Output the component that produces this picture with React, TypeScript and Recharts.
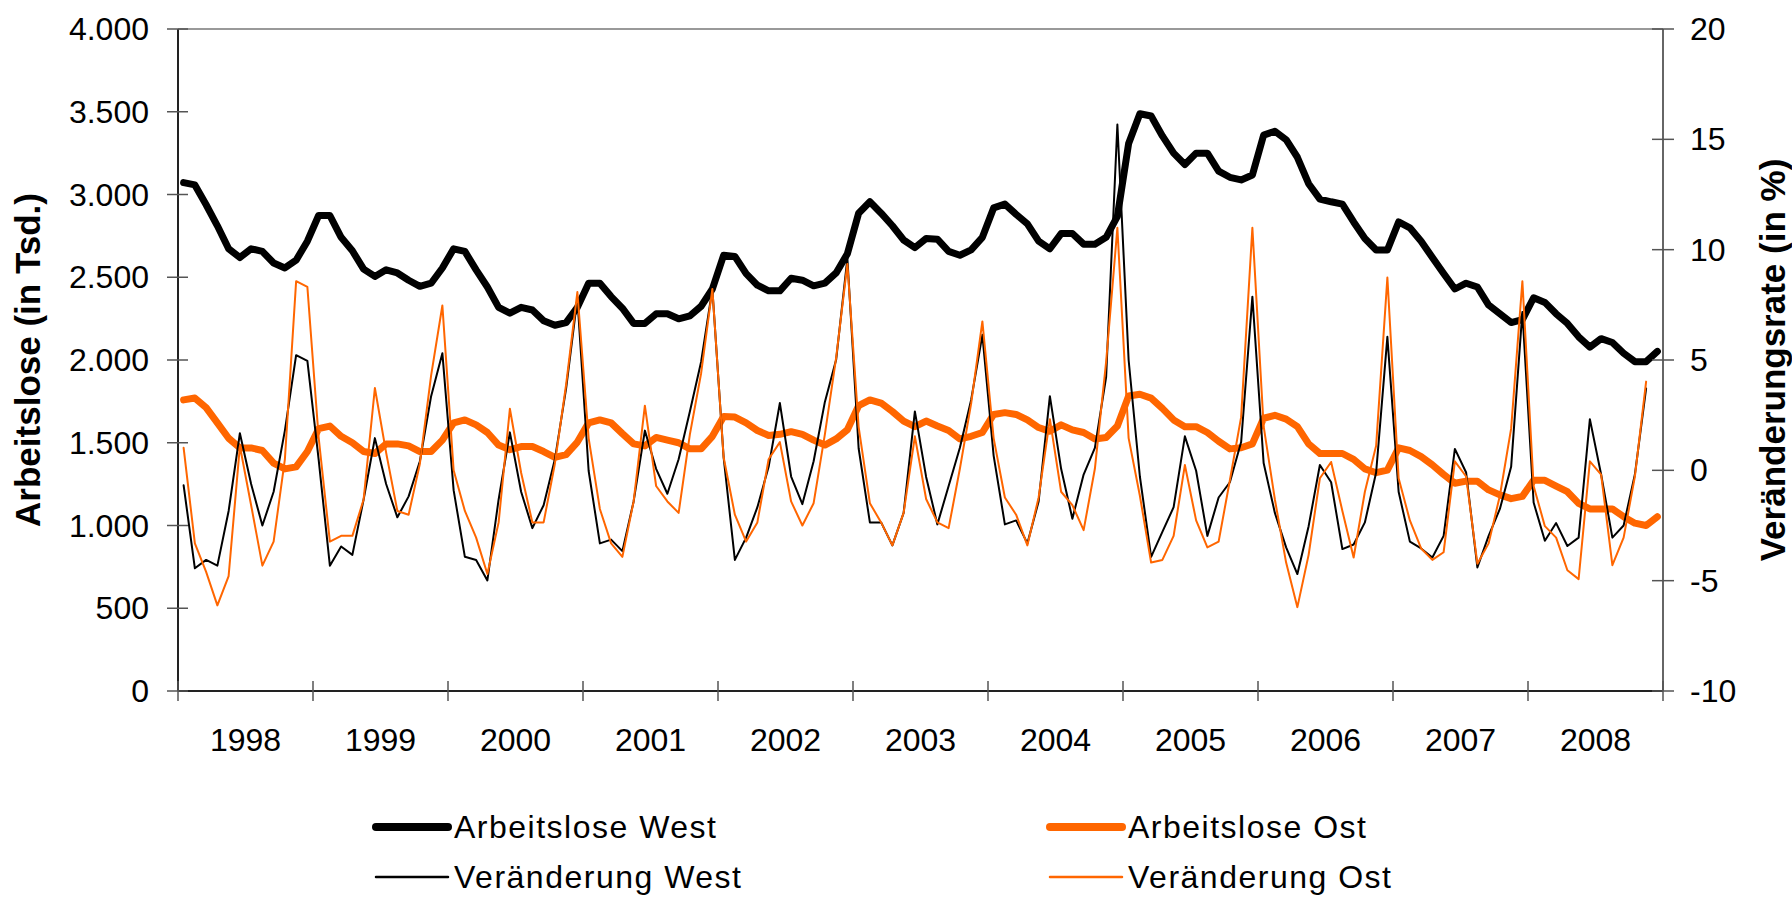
import React from 'react';
import { LineChart, Line, XAxis, YAxis, ReferenceLine } from 'recharts';

// Years (x-axis category labels), 12 monthly points per year: Jan 1998 - Dec 2008
const years = [1998, 1999, 2000, 2001, 2002, 2003, 2004, 2005, 2006, 2007, 2008];

// Arbeitslose West (in Tsd.)
const westLevel = [
  3072, 3058, 2938, 2811, 2672, 2619, 2672, 2656, 2586, 2556, 2603, 2718,
  2873, 2873, 2741, 2660, 2549, 2505, 2545, 2526, 2482, 2445, 2464, 2556,
  2672, 2656, 2545, 2441, 2318, 2283, 2318, 2302, 2237, 2210, 2226, 2318,
  2464, 2464, 2383, 2313, 2221, 2221, 2279, 2279, 2249, 2267, 2325, 2429,
  2633, 2626, 2522, 2452, 2418, 2418, 2494, 2482, 2448, 2464, 2526, 2642,
  2887, 2956, 2887, 2811, 2725, 2679, 2734, 2730, 2656, 2633, 2665, 2741,
  2919, 2942, 2880, 2822, 2718, 2672, 2764, 2764, 2700, 2700, 2741, 2868,
  3308, 3488, 3474, 3354, 3250, 3181, 3250, 3250, 3141, 3104, 3088, 3118,
  3359, 3382, 3331, 3225, 3065, 2972, 2956, 2942, 2834, 2734, 2665, 2665,
  2834, 2799, 2718, 2619, 2522, 2429, 2464, 2441, 2332, 2279, 2226, 2244,
  2376, 2348, 2279, 2221, 2140, 2078, 2129, 2106, 2041, 1990, 1990, 2052,
];

// Arbeitslose Ost (in Tsd.)
const ostLevel = [
  1759, 1770, 1712, 1620, 1527, 1469, 1469, 1453, 1377, 1342, 1354, 1447,
  1585, 1601, 1539, 1500, 1447, 1435, 1493, 1493, 1481, 1447, 1447, 1516,
  1620, 1638, 1608, 1562, 1486, 1458, 1477, 1477, 1447, 1412, 1428, 1504,
  1620, 1638, 1620, 1555, 1493, 1481, 1532, 1516, 1500, 1463, 1463, 1539,
  1659, 1655, 1620, 1574, 1544, 1551, 1567, 1551, 1516, 1486, 1523, 1578,
  1724, 1759, 1740, 1689, 1631, 1597, 1631, 1601, 1574, 1523, 1539, 1562,
  1671, 1682, 1671, 1638, 1592, 1569, 1608, 1578, 1562, 1523, 1532, 1601,
  1782, 1793, 1770, 1708, 1638, 1597, 1597, 1562, 1509, 1463, 1470, 1493,
  1648, 1666, 1643, 1597, 1493, 1435, 1435, 1435, 1400, 1342, 1319, 1335,
  1469, 1453, 1416, 1366, 1308, 1255, 1268, 1268, 1215, 1185, 1162, 1176,
  1273, 1273, 1238, 1204, 1134, 1100, 1100, 1100, 1053, 1014, 1000, 1053,
];

// Veränderung West (in %)
const westChange = [
  -0.68, -4.44, -4.06, -4.32, -1.84, 1.68, -0.62, -2.5, -0.97, 1.8, 5.22, 4.96,
  0.5, -4.32, -3.45, -3.83, -1.32, 1.46, -0.62, -2.13, -1.18, 0.41, 3.36, 5.31,
  -0.9, -3.92, -4.06, -4.99, -1.32, 1.72, -0.97, -2.62, -1.58, 0.5, 3.71, 7.79,
  -0.02, -3.31, -3.14, -3.66, -1.41, 1.8, 0.07, -1.06, 0.5, 2.67, 4.92, 8.22,
  0.59, -4.06, -3.05, -1.67, 0.16, 3.05, -0.28, -1.53, 0.41, 3.1, 5.01, 9.61,
  1.0, -2.36, -2.36, -3.4, -1.93, 2.67, -0.3, -2.45, -0.71, 1.02, 3.19, 6.14,
  0.67, -2.45, -2.27, -3.31, -1.41, 3.36, 0.07, -2.19, -0.19, 1.02, 4.23, 15.67,
  5.0, -0.28, -3.92, -2.79, -1.67, 1.54, -0.02, -2.97, -1.23, -0.54, 1.28, 7.87,
  0.33, -1.93, -3.49, -4.7, -2.53, 0.24, -0.54, -3.57, -3.36, -2.36, -0.1, 6.05,
  -0.97, -3.23, -3.54, -3.95, -2.97, 0.97, -0.1, -4.4, -2.97, -1.75, 0.16, 7.18,
  -1.46, -3.19, -2.39, -3.43, -3.05, 2.32, -0.19, -3.05, -2.5, -0.19, 3.71, null,
];

// Veränderung Ost (in %)
const ostChange = [
  1.02, -3.31, -4.6, -6.12, -4.79, 1.1, -1.58, -4.32, -3.23, 0.5, 8.57, 8.31,
  1.5, -3.23, -2.97, -2.97, -1.32, 3.73, 0.8, -1.84, -2.01, 0.3, 4.3, 7.47,
  0.0, -1.84, -3.05, -4.7, -2.36, 2.79, -0.11, -2.36, -2.36, 0.3, 3.89, 8.08,
  1.46, -1.75, -3.31, -3.92, -1.41, 2.93, -0.71, -1.41, -1.93, 1.63, 4.4, 8.22,
  0.59, -2.01, -3.23, -2.36, 0.5, 1.28, -1.41, -2.5, -1.49, 1.63, 5.1, 9.35,
  1.97, -1.49, -2.36, -3.4, -1.93, 1.54, -1.3, -2.36, -2.62, 0.07, 3.02, 6.75,
  1.46, -1.23, -2.01, -3.4, -1.23, 2.32, -0.97, -1.58, -2.71, 0.07, 4.92, 10.99,
  1.46, -1.15, -4.18, -4.06, -2.97, 0.24, -2.27, -3.49, -3.23, -0.45, 2.41, 10.99,
  2.0, -1.32, -4.18, -6.2, -3.83, -0.36, 0.38, -1.84, -3.95, -0.97, 1.11, 8.74,
  -0.36, -2.27, -3.54, -4.06, -3.71, 0.41, -0.28, -4.23, -3.31, -1.15, 1.89, 8.57,
  -0.71, -2.53, -3.05, -4.53, -4.93, 0.41, -0.19, -4.3, -3.05, -0.28, 4.02, null,
];

const leftTicks = [0, 500, 1000, 1500, 2000, 2500, 3000, 3500, 4000];
const rightTicks = [-10, -5, 0, 5, 10, 15, 20];

const ORANGE = '#FF6600';
const FONT = '"Liberation Sans", Arial, sans-serif';
const TICK_COLOR = '#555555';

const series = [
  { key: 'westLevel', name: 'Arbeitslose West', color: '#000000', width: 7, axis: 'left' },
  { key: 'ostLevel', name: 'Arbeitslose Ost', color: ORANGE, width: 7, axis: 'left' },
  { key: 'westChange', name: 'Veränderung West', color: '#000000', width: 2, axis: 'right' },
  { key: 'ostChange', name: 'Veränderung Ost', color: ORANGE, width: 2, axis: 'right' },
];

const data = westLevel.map((_, i) => ({
  idx: i + 0.5,
  westLevel: westLevel[i],
  ostLevel: ostLevel[i],
  westChange: westChange[i],
  ostChange: ostChange[i],
}));

const xTicks: number[] = [];
years.forEach((_, k) => {
  xTicks.push(k * 12);
  xTicks.push(k * 12 + 6);
});
xTicks.push(years.length * 12);

const fmtDE = (v: number) => String(v).replace(/\B(?=(\d{3})+(?!\d))/g, '.');

const XTick = (props: any) => {
  const { x, y, payload } = props;
  const v = payload.value;
  if (v % 12 === 0) {
    return <line x1={x} x2={x} y1={y - 10} y2={y + 10} stroke={TICK_COLOR} strokeWidth={1.5} />;
  }
  const year = years[(v - 6) / 12];
  return (
    <text x={x} y={y + 60} textAnchor="middle" fontFamily={FONT} fontSize={32} fill="#000">
      {year}
    </text>
  );
};

const LeftTick = (props: any) => {
  const { x, y, payload } = props;
  return (
    <g>
      <line x1={x - 11} x2={x + 10} y1={y} y2={y} stroke={TICK_COLOR} strokeWidth={1.5} />
      <text x={x - 29} y={y + 11} textAnchor="end" fontFamily={FONT} fontSize={32} fill="#000">
        {fmtDE(payload.value)}
      </text>
    </g>
  );
};

const RightTick = (props: any) => {
  const { x, y, payload } = props;
  return (
    <g>
      <line x1={x - 11} x2={x + 11} y1={y} y2={y} stroke={TICK_COLOR} strokeWidth={1.5} />
      <text x={x + 27} y={y + 11} textAnchor="start" fontFamily={FONT} fontSize={32} fill="#000">
        {payload.value}
      </text>
    </g>
  );
};

const LeftTitle = (props: any) => {
  const vb = props.viewBox || {};
  const cy = vb.y + vb.height / 2;
  return (
    <text
      transform={`translate(40, ${cy}) rotate(-90)`}
      textAnchor="middle"
      fontFamily={FONT}
      fontWeight="bold"
      fontSize={35}
      fill="#000"
    >
      Arbeitslose (in Tsd.)
    </text>
  );
};

const RightTitle = (props: any) => {
  const vb = props.viewBox || {};
  const cy = vb.y + vb.height / 2;
  const bx = vb.x + 122;
  return (
    <text
      transform={`translate(${bx}, ${cy}) rotate(-90)`}
      textAnchor="middle"
      fontFamily={FONT}
      fontWeight="bold"
      fontSize={35}
      fill="#000"
    >
      Veränderungsrate (in %)
    </text>
  );
};

const legendPos = [
  { left: 372, top: 809 },
  { left: 1046, top: 809 },
  { left: 372, top: 859 },
  { left: 1046, top: 859 },
];

export default function App() {
  return (
    <div style={{ position: 'absolute', left: 0, top: 0, width: 1792, height: 898, background: '#fff', overflow: 'hidden' }}>
      <LineChart width={1792} height={898} data={data} margin={{ top: 29, right: 0, bottom: 0, left: 0 }}>
        <XAxis
          dataKey="idx"
          type="number"
          domain={[0, years.length * 12]}
          ticks={xTicks}
          interval={0}
          height={207}
          tickSize={0}
          tickMargin={0}
          tick={<XTick />}
          axisLine={{ stroke: '#222', strokeWidth: 2 }}
        />
        <YAxis
          yAxisId="left"
          orientation="left"
          width={178}
          domain={[0, 4000]}
          ticks={leftTicks}
          interval={0}
          tickSize={0}
          tickMargin={0}
          tick={<LeftTick />}
          axisLine={{ stroke: '#222', strokeWidth: 2 }}
          label={{ content: <LeftTitle /> }}
        />
        <YAxis
          yAxisId="right"
          orientation="right"
          width={129}
          domain={[-10, 20]}
          ticks={rightTicks}
          interval={0}
          tickSize={0}
          tickMargin={0}
          tick={<RightTick />}
          axisLine={{ stroke: '#333', strokeWidth: 1.5 }}
          label={{ content: <RightTitle /> }}
        />
        <ReferenceLine yAxisId="left" y={4000} stroke="#777" strokeWidth={1.5} />
        {series.map((s) => (
          <Line
            key={s.key}
            yAxisId={s.axis}
            type="linear"
            dataKey={s.key}
            name={s.name}
            stroke={s.color}
            strokeWidth={s.width}
            strokeLinejoin="round"
            strokeLinecap="round"
            dot={false}
            activeDot={false}
            isAnimationActive={false}
          />
        ))}
      </LineChart>
      {series.map((s, k) => (
        <div
          key={s.key}
          style={{
            position: 'absolute',
            left: legendPos[k].left,
            top: legendPos[k].top,
            height: 36,
            display: 'flex',
            alignItems: 'center',
            fontFamily: FONT,
            fontSize: 32,
            letterSpacing: 1.5,
            whiteSpace: 'nowrap',
          }}
        >
          <svg width={80} height={14} style={{ display: 'block' }}>
            <line x1={4} x2={76} y1={7} y2={7} stroke={s.color} strokeWidth={s.width === 7 ? 8 : 2.5} strokeLinecap="round" />
          </svg>
          <span style={{ marginLeft: 2, lineHeight: '36px' }}>{s.name}</span>
        </div>
      ))}
    </div>
  );
}
